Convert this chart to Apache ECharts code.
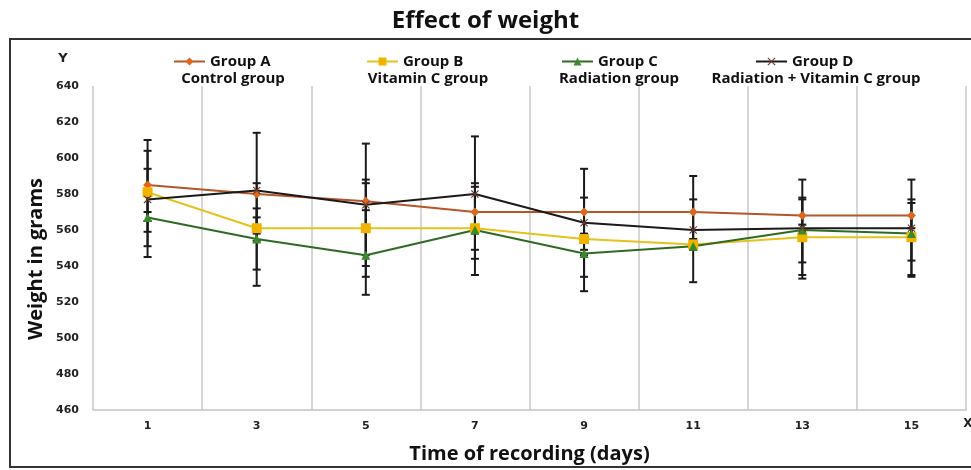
<!DOCTYPE html>
<html>
<head>
<meta charset="utf-8">
<script src="https://cdn.jsdelivr.net/npm/echarts@6/dist/echarts.min.js"></script>
<style>
  html, body { margin: 0; padding: 0; background: #fff; }
  #chart { width: 971px; height: 470px; }
</style>
</head>
<body>
<div id="chart"></div>
<script>
// data
var days = ['1', '3', '5', '7', '9', '11', '13', '15'];

var groupA = [585, 580, 576, 570, 570, 570, 568, 568];
var groupB = [581, 561, 561, 561, 555, 552, 556, 556];
var groupC = [567, 555, 546, 560, 547, 551, 560, 558];
var groupD = [577, 582, 574, 580, 564, 560, 561, 561];

// error bar ends (low / high)
var lowA = [551, 538, 534, 544, 534, 552, 535, 535];
var highA = [604, 586, 588, 586, 578, 577, 578, 577];
var lowB = [559, 558, 540, 549, 553, 550, 542, 543];
var highB = [594, 567, 586, 584, 558, 555, 577, 575];
var lowC = [565, 554, 546, 558, 546, 549, 557, 556];
var highC = [570, 572, 571, 562, 549, 553, 563, 561];
var lowD = [545, 529, 524, 535, 526, 531, 533, 534];
var highD = [610, 614, 608, 612, 594, 590, 588, 588];

var yTicks = [460, 480, 500, 520, 540, 560, 580, 600, 620, 640];

var chart = echarts.init(document.getElementById('chart'));

var boldFont = '"Open Sans", "Noto Sans", sans-serif';
var tickFont = '"DejaVu Sans", sans-serif';

var crossPath = 'path://M0,1L1,0L5,4L9,0L10,1L6,5L10,9L9,10L5,6L1,10L0,9L4,5Z';

function errSeries(name, low, high) {
  return {
    name: name,
    type: 'custom',
    z: 1,
    silent: true,
    data: low.map(function (l, i) { return [i, l, high[i]]; }),
    renderItem: function (params, api) {
      var top = api.coord([api.value(0), api.value(2)]);
      var bot = api.coord([api.value(0), api.value(1)]);
      var w = 4;
      var st = { stroke: '#1a1a1a', lineWidth: 2 };
      return {
        type: 'group',
        children: [
          { type: 'line', shape: { x1: top[0], y1: top[1], x2: bot[0], y2: bot[1] }, style: st },
          { type: 'line', shape: { x1: top[0] - w, y1: top[1], x2: top[0] + w, y2: top[1] }, style: st },
          { type: 'line', shape: { x1: bot[0] - w, y1: bot[1], x2: bot[0] + w, y2: bot[1] }, style: st }
        ]
      };
    }
  };
}

function lineSeries(name, values, lineColor, markColor, symbol, size) {
  return {
    name: name,
    type: 'line',
    z: 3,
    data: values,
    symbol: symbol,
    symbolSize: size,
    showSymbol: true,
    lineStyle: { color: lineColor, width: 2 },
    itemStyle: { color: markColor },
    emphasis: { disabled: true }
  };
}

function legendAt(name, left) {
  return {
    data: [name],
    left: left,
    top: 49,
    itemWidth: 31,
    itemHeight: 10,
    itemGap: 2,
    textStyle: { fontFamily: boldFont, fontWeight: 'bold', fontSize: 15, color: '#111' }
  };
}

function subText(text, x) {
  return {
    type: 'text',
    x: x,
    y: 79,
    style: {
      text: text, fontFamily: boldFont, fontWeight: 'bold', fontSize: 15, fill: '#111',
      textAlign: 'center', textVerticalAlign: 'middle'
    }
  };
}

var option = {
  animation: false,
  backgroundColor: '#fff',
  title: {
    text: 'Effect of weight',
    left: 'center',
    top: 4,
    textStyle: { fontFamily: boldFont, fontWeight: 'bold', fontSize: 24, color: '#111' }
  },
  legend: [
    legendAt('Group A', 168),
    legendAt('Group B', 361),
    legendAt('Group C', 556),
    legendAt('Group D', 750)
  ],
  grid: { left: 93, right: 5, top: 86, bottom: 60, outerBoundsMode: 'none' },
  xAxis: {
    type: 'category',
    data: days,
    boundaryGap: true,
    name: 'Time of recording (days)',
    nameLocation: 'middle',
    nameGap: 34,
    nameTextStyle: { fontFamily: boldFont, fontWeight: 'bold', fontSize: 20, color: '#111' },
    axisLine: { lineStyle: { color: '#c4c4c4', width: 1.5 } },
    axisTick: { show: false },
    axisLabel: { fontFamily: tickFont, fontWeight: 'bold', fontSize: 11, color: '#222', margin: 11 },
    splitLine: { show: true, lineStyle: { color: '#c8c8c8', width: 1.5 } }
  },
  yAxis: {
    type: 'value',
    min: yTicks[0],
    max: yTicks[yTicks.length - 1],
    interval: 20,
    axisLine: { show: false },
    axisTick: { show: false },
    axisLabel: { fontFamily: tickFont, fontWeight: 'bold', fontSize: 11, color: '#222', margin: 14 },
    splitLine: { show: false }
  },
  graphic: [
    {
      type: 'rect',
      shape: { x: 10, y: 39, width: 980, height: 428 },
      style: { fill: 'none', stroke: '#333', lineWidth: 2 },
      z: -1
    },
    {
      type: 'text', x: 36, y: 259, rotation: Math.PI / 2,
      style: {
        text: 'Weight in grams', fontFamily: boldFont, fontWeight: 'bold', fontSize: 20, fill: '#111',
        textAlign: 'center', textVerticalAlign: 'middle'
      }
    },
    { type: 'text', x: 63, y: 59, style: { text: 'Y', fontFamily: tickFont, fontWeight: 'bold', fontSize: 13, fill: '#222', textAlign: 'center', textVerticalAlign: 'middle' } },
    { type: 'text', x: 968, y: 424, style: { text: 'X', fontFamily: tickFont, fontWeight: 'bold', fontSize: 12, fill: '#222', textAlign: 'center', textVerticalAlign: 'middle' } },
    subText('Control group', 233),
    subText('Vitamin C group', 428),
    subText('Radiation group', 619),
    subText('Radiation + Vitamin C group', 816)
  ],
  series: [
    errSeries('errD', lowD, highD),
    errSeries('errA', lowA, highA),
    errSeries('errB', lowB, highB),
    errSeries('errC', lowC, highC),
    lineSeries('Group A', groupA, '#b4552a', '#e0651e', 'diamond', 9),
    lineSeries('Group B', groupB, '#e6c21c', '#f0b400', 'rect', 10),
    lineSeries('Group C', groupC, '#2f6a24', '#3a8a2c', 'triangle', 9),
    lineSeries('Group D', groupD, '#1a1a1a', '#6a3b2c', crossPath, 8)
  ]
};

chart.setOption(option);
</script>
</body>
</html>
